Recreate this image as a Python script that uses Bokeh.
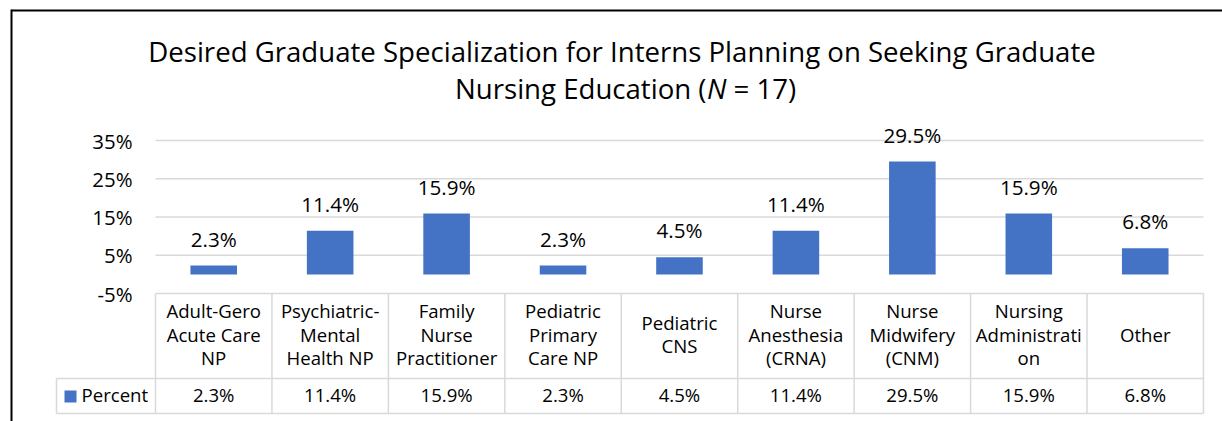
from bokeh.plotting import figure
from bokeh.models import (Range1d, FixedTicker, PrintfTickFormatter,
                          ColumnDataSource, LabelSet)
from bokeh.core.properties import value
from bokeh.embed import file_html
from bokeh.resources import INLINE

# ---------------- data ----------------
title_line1 = "Desired Graduate Specialization for Interns Planning on Seeking Graduate"
title_line2_parts = ["Nursing Education (", "N", " = 17)"]
categories = [
    "Adult-Gero\nAcute Care\nNP",
    "Psychiatric-\nMental\nHealth NP",
    "Family\nNurse\nPractitioner",
    "Pediatric\nPrimary\nCare NP",
    "Pediatric\nCNS",
    "Nurse\nAnesthesia\n(CRNA)",
    "Nurse\nMidwifery\n(CNM)",
    "Nursing\nAdministrati\non",
    "Other",
]
percent = [2.3, 11.4, 15.9, 2.3, 4.5, 11.4, 29.5, 15.9, 6.8]
percent_labels = ["2.3%", "11.4%", "15.9%", "2.3%", "4.5%", "11.4%", "29.5%", "15.9%", "6.8%"]
y_ticks = [-5, 5, 15, 25, 35]
series_name = "Percent"

# ---------------- style / layout constants ----------------
FONT = "Open Sans"
BLUE = "#4472C4"
GRID = "#D9D9D9"
TEXT = "#000000"
W, H = 1222, 421

n = len(categories)
CAT_PX = 116.44          # pixel width of one category column
PCT_PX = 3.825           # pixels per percentage point
PLOT_LEFT = 155          # canvas x of category 0 left edge
Y35 = 140                # canvas y of the 35% line


def cx(px):               # canvas x pixel -> data x (category units)
    return (px - PLOT_LEFT) / CAT_PX


def cy(py):               # canvas y pixel (from top) -> data y (percent)
    return 35 - (py - Y35) / PCT_PX


x_pos = [i + 0.5 for i in range(n)]
src = ColumnDataSource(dict(x=x_pos, pct=percent, label=percent_labels))

p = figure(width=W, height=H,
           x_range=Range1d(cx(0), cx(W)), y_range=Range1d(cy(H), cy(0)),
           x_axis_location=None,
           min_border=0, min_border_left=0, min_border_right=0,
           min_border_top=0, min_border_bottom=0,
           outline_line_color=None, background_fill_color="white",
           border_fill_color="white",
           output_backend="svg", toolbar_location=None)
p.grid.visible = False

# y axis drawn at the left edge of the plotting area
ax = p.yaxis[0]
ax.fixed_location = 0
ax.ticker = FixedTicker(ticks=y_ticks)
ax.formatter = PrintfTickFormatter(format="%d%%")
ax.axis_line_color = None
ax.major_tick_line_color = None
ax.minor_tick_line_color = None
ax.major_tick_out = 0
ax.major_tick_in = 0
ax.major_label_standoff = 23
ax.major_label_text_font = FONT
ax.major_label_text_font_size = "20.4px"
ax.major_label_text_color = TEXT

# horizontal gridlines (the -5% line is also the top border of the data table)
p.segment(x0=[0] * len(y_ticks), y0=y_ticks, x1=[n] * len(y_ticks), y1=y_ticks,
          line_color=GRID, line_width=1.5)

# bars + value labels
p.vbar(x="x", top="pct", bottom=0, width=0.4, source=src,
       fill_color=BLUE, line_color=None)
p.add_layout(LabelSet(x="x", y="pct", text="label", source=src, y_offset=19,
                      text_align="center", text_baseline="alphabetic",
                      text_font=value(FONT), text_font_size="20.6px",
                      text_color=TEXT))

# title
TITLE_SIZE = "27.6px"
p.text(x=[cx(621.5)], y=[cy(50.5)], text=[title_line1],
       text_align="center", text_baseline="middle",
       text_font=value(FONT), text_font_size=TITLE_SIZE, text_color=TEXT)
p.text(x=[cx(706.0)], y=[cy(87.5)], text=[title_line2_parts[0]],
       text_align="right", text_baseline="middle",
       text_font=value(FONT), text_font_size=TITLE_SIZE, text_color=TEXT)
p.text(x=[cx(706.5)], y=[cy(87.5)], text=[title_line2_parts[1]],
       text_align="left", text_baseline="middle", text_font_style="italic",
       text_font=value(FONT), text_font_size=TITLE_SIZE, text_color=TEXT)
p.text(x=[cx(733.0)], y=[cy(87.5)], text=[title_line2_parts[2]],
       text_align="left", text_baseline="middle",
       text_font=value(FONT), text_font_size=TITLE_SIZE, text_color=TEXT)

# ---------------- data table ----------------
row_mid = cy(378)
row_bot = cy(413)
legend_left = cx(56)
bounds = list(range(n + 1))
p.segment(x0=bounds, y0=[-5] * len(bounds), x1=bounds, y1=[row_bot] * len(bounds),
          line_color=GRID, line_width=1.5)
p.segment(x0=[legend_left, legend_left, legend_left], y0=[row_mid, row_mid, row_bot],
          x1=[legend_left, n, n], y1=[row_bot, row_mid, row_bot],
          line_color=GRID, line_width=1.5)

TABLE_SIZE = "18.6px"
p.text(x=x_pos, y=[cy(333.5)] * n, text=categories, text_align="center",
       text_baseline="middle", text_font=value(FONT), text_font_size=TABLE_SIZE,
       text_line_height=0.95, text_color=TEXT)
p.text(x=x_pos, y=[cy(394.0)] * n, text=percent_labels, text_align="center",
       text_baseline="middle", text_font=value(FONT), text_font_size=TABLE_SIZE,
       text_color=TEXT)
p.scatter(x=[cx(70)], y=[cy(396)], marker="square", size=12,
          fill_color=BLUE, line_color=None)
p.text(x=[cx(81)], y=[cy(394.0)], text=[series_name], text_align="left",
       text_baseline="middle", text_font=value(FONT), text_font_size=TABLE_SIZE,
       text_color=TEXT)

# ---------------- chart border (left and top edges) ----------------
p.segment(x0=[cx(11), cx(11)], y0=[cy(9), cy(10)], x1=[cx(11), cx(W)], y1=[cy(H), cy(10)],
          line_color="black", line_width=2)

open("out.html", "w").write(file_html(p, INLINE))
